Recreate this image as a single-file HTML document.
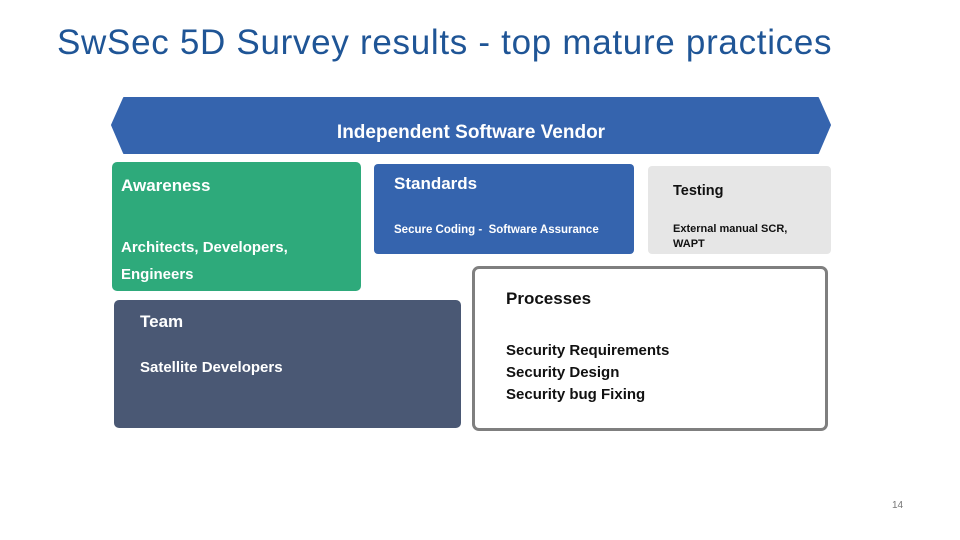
<!DOCTYPE html>
<html><head><meta charset="utf-8"><style>
body{margin:0;width:960px;height:540px;background:#fff;position:relative;overflow:hidden;font-family:"Liberation Sans",sans-serif}
.a{position:absolute;box-sizing:border-box}
.t{position:absolute;white-space:nowrap;font-weight:bold}
</style></head><body>
<div class="t" style="left:57px;top:23px;font-size:35px;font-weight:normal;color:#1F5596;letter-spacing:0.7px">SwSec 5D Survey results - top mature practices</div>
<svg class="a" style="left:0;top:0" width="960" height="540">
<polygon points="112,125 124,98 818,98 830,125 818,153 124,153" fill="#3564AE" stroke="#3564AE" stroke-width="2" stroke-linejoin="round"/>
</svg>
<div class="t" style="left:0;width:942px;text-align:center;top:122px;font-size:19px;color:#fff">Independent Software Vendor</div>

<div class="a" style="left:112px;top:162px;width:249px;height:129px;background:#2EAA7B;border-radius:5px"></div>
<div class="t" style="left:121px;top:176px;font-size:17px;color:#fff">Awareness</div>
<div class="t" style="left:121px;top:234px;font-size:15px;color:#fff;line-height:27px">Architects, Developers,<br>Engineers</div>

<div class="a" style="left:374px;top:164px;width:260px;height:90px;background:#3564AE;border-radius:4px"></div>
<div class="t" style="left:394px;top:174px;font-size:17px;color:#fff">Standards</div>
<div class="t" style="left:394px;top:224px;font-size:11.5px;color:#fff">Secure Coding -&nbsp; Software Assurance</div>

<div class="a" style="left:648px;top:166px;width:183px;height:88px;background:#E6E6E6;border-radius:4px"></div>
<div class="t" style="left:673px;top:183px;font-size:14.5px;color:#111">Testing</div>
<div class="t" style="left:673px;top:222px;font-size:11px;color:#111;line-height:15px">External manual SCR,<br>WAPT</div>

<div class="a" style="left:114px;top:300px;width:347px;height:128px;background:#4A5874;border-radius:5px"></div>
<div class="t" style="left:140px;top:312px;font-size:17px;color:#fff">Team</div>
<div class="t" style="left:140px;top:359px;font-size:15px;color:#fff">Satellite Developers</div>

<div class="a" style="left:472px;top:266px;width:356px;height:165px;border:3px solid #7F7F7F;border-radius:7px;background:#fff"></div>
<div class="t" style="left:506px;top:289px;font-size:17px;color:#111">Processes</div>
<div class="t" style="left:506px;top:340px;font-size:15px;color:#111;line-height:22px">Security Requirements<br>Security Design<br>Security bug Fixing</div>

<div class="t" style="left:892px;top:500px;font-size:10px;font-weight:normal;color:#777">14</div>
</body></html>
